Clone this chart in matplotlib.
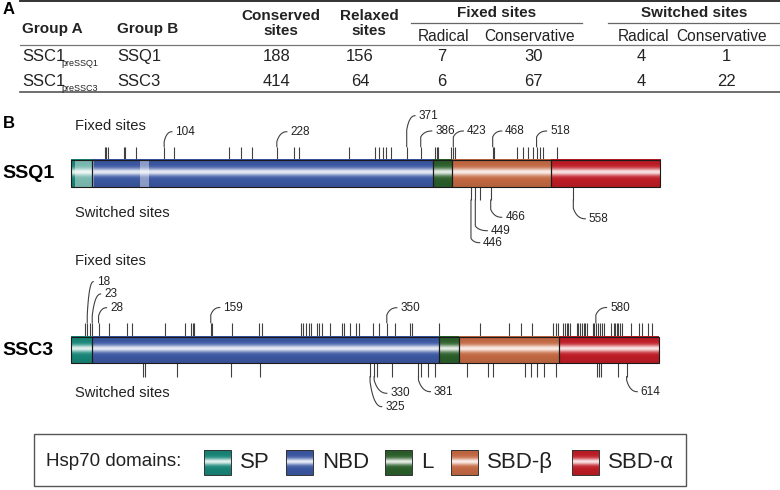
import matplotlib
matplotlib.use("Agg")
import matplotlib.pyplot as plt
import numpy as np
from matplotlib.colors import to_rgb
from matplotlib.patches import Rectangle

plt.rcParams["font.family"] = ["Liberation Sans", "DejaVu Sans"]

# ---- panel A: substitution counts per comparison
group_a = ["SSC1", "SSC1"]
group_a_sub = ["preSSQ1", "preSSC3"]
group_b = ["SSQ1", "SSC3"]
conserved = [188, 414]
relaxed = [156, 64]
fixed_radical = [7, 6]
fixed_conservative = [30, 67]
switched_radical = [4, 4]
switched_conservative = [1, 22]

# ---- panel B: domain boundaries and sites, in alignment columns
domain_names = ["SP", "NBD", "L", "SBD-β", "SBD-α"]
domain_colors = ["#198c7d", "#3e5caa", "#2d642d", "#cd6e46", "#c81e28"]
ssq1_bounds = [0.5, 23.8, 400.6, 421.5, 530.9, 651.4]
ssc3_bounds = [0.5, 23.4, 407.5, 429.0, 540.1, 650.3]
ssq1_faded = [(5, 26.5), (76.5, 87)]  # poorly aligned stretches, drawn pale

ssq1_fixed = [38, 39.5, 41, 59, 60.5, 72.5, 103.5, 114.5, 175, 188.5, 200, 228,
              246.5, 252.5, 308, 337, 341, 345, 349, 354, 371.5, 387, 403, 404.5,
              406.5, 420, 423, 425, 466.5, 468.5, 493.5, 499.5, 505, 510.5, 515,
              519, 522, 538]
ssq1_fixed_at = [103.5, 228, 371.5, 387, 423, 466.5, 515]
ssq1_fixed_txt = ["104", "228", "371", "386", "423", "468", "518"]

ssq1_switched = [442.5, 447.3, 453, 464.3, 555.6]
ssq1_switched_at = [442.5, 447.3, 464.3, 555.6]
ssq1_switched_txt = ["446", "449", "466", "558"]

ssc3_fixed = [16, 18.5, 21.5, 24, 31, 42, 62, 67.5, 104.5, 127, 133, 135, 137,
              155, 156.5, 179, 208.5, 211.5, 254.5, 257, 260, 263, 265.5, 272,
              274.5, 277.5, 286.5, 299.5, 302, 308.5, 316, 319, 334.5, 341, 349.5,
              359, 375, 377, 407.5, 453, 485, 498, 510, 533.5, 536.5, 539, 544.5,
              546.5, 548.5, 550, 552, 559.5, 561, 563.5, 565, 567, 569, 571, 577,
              579, 580.5, 583, 585, 587.5, 589.5, 597.5, 600, 601.5, 604, 605.5,
              607.5, 609.5, 619, 628.5, 631.5, 638, 642]
ssc3_fixed_at = [18.5, 24, 31, 155, 349.5, 580.5]
ssc3_fixed_txt = ["18", "23", "28", "159", "350", "580"]

ssc3_switched = [80.5, 82.5, 118, 177.5, 209.5, 331, 335.5, 339, 355, 384.5, 387,
                 395.5, 402.5, 438.5, 461, 466.5, 502, 509, 515.5, 523, 536.5,
                 581.5, 583.5, 586, 604.5, 614.5]
ssc3_switched_at = [331, 335.5, 384.5, 614.5]
ssc3_switched_txt = ["325", "330", "381", "614"]

X0_PX = 70.5        # pixel of alignment column 0
PX_PER_COL = 0.905  # pixels per alignment column
TICK_C = "#404040"


def gradient(color, n=80):
    t = np.linspace(0, 1, n)
    c = np.array(to_rgb(color))
    hl = 0.88 * np.exp(-((t - 0.46) / 0.13) ** 2)
    dark = 0.12 * np.abs(t - 0.46) / 0.54
    rgb = c[None, :] * (1 - dark[:, None])
    rgb = rgb * (1 - hl[:, None]) + hl[:, None]
    return rgb[:, None, :]


def draw_bar(ax, bounds, y_top, y_bot, faded=()):
    for i, color in enumerate(domain_colors):
        x0, x1 = bounds[i], bounds[i + 1]
        ax.imshow(gradient(color), extent=(x0, x1, y_bot, y_top), aspect="auto",
                  interpolation="bilinear", zorder=2)
    for x0, x1 in faded:
        ax.add_patch(Rectangle((x0, y_top), x1 - x0, y_bot - y_top, fc="white",
                               ec="none", alpha=0.42, zorder=3))
    for i in range(len(domain_colors)):
        x0, x1 = bounds[i], bounds[i + 1]
        ax.add_patch(Rectangle((x0, y_top), x1 - x0, y_bot - y_top, fill=False,
                               ec="#1a1a1a", lw=0.8, zorder=4))


def leader(ax, x, y0, y_bend, dx_px, y_end, text, text_gap=3.5):
    # vertical run from the tick, then a curl out to the label
    dx = dx_px / PX_PER_COL
    s = np.linspace(0, 1, 20)
    p0 = np.array([x, y_bend])
    p1 = np.array([x + 0.3 * dx, y_end])
    p2 = np.array([x + dx, y_end])
    curve = ((1 - s) ** 2)[:, None] * p0 + (2 * (1 - s) * s)[:, None] * p1 + (s ** 2)[:, None] * p2
    xs = np.concatenate([[x], curve[:, 0]])
    ys = np.concatenate([[y0], curve[:, 1]])
    ax.plot(xs, ys, color=TICK_C, lw=0.8, zorder=1)
    ax.text(x + dx + text_gap / PX_PER_COL, y_end, text, fontsize=8.5, ha="left",
            va="center", color="#222")


fig = plt.figure(figsize=(7.8, 4.9), dpi=100)
canvas = fig.add_axes([0, 0, 1, 1])
canvas.set_xlim(0, 780)
canvas.set_ylim(490, 0)
canvas.axis("off")

# ---------------- panel A table ----------------
canvas.text(3, 10, "A", fontsize=12, fontweight="bold", va="center")
canvas.plot([20, 780], [1.5, 1.5], color="#333", lw=1.4)
canvas.plot([20, 780], [45, 45], color="#777", lw=0.9)
canvas.plot([20, 780], [92.3, 92.3], color="#555", lw=1.2)
canvas.plot([410.7, 581.7], [22.7, 22.7], color="#666", lw=0.9)
canvas.plot([608.3, 780], [22.7, 22.7], color="#666", lw=0.9)

hdr = dict(fontsize=11, fontweight="bold", va="center", color="#222")
canvas.text(22, 29, "Group A", ha="left", **hdr)
canvas.text(117, 29, "Group B", ha="left", **hdr)
canvas.text(281, 16.5, "Conserved", ha="center", **hdr)
canvas.text(281, 31, "sites", ha="center", **hdr)
canvas.text(369, 16.5, "Relaxed", ha="center", **hdr)
canvas.text(369, 31, "sites", ha="center", **hdr)
canvas.text(496.7, 13, "Fixed sites", ha="center", **hdr)
canvas.text(694, 13, "Switched sites", ha="center", **hdr)
sub = dict(fontsize=11.2, va="center", ha="center", color="#222")
canvas.text(443.3, 36.5, "Radical", **sub)
canvas.text(529.3, 36.5, "Conservative", **sub)
canvas.text(643.3, 36.5, "Radical", **sub)
canvas.text(721.7, 36.5, "Conservative", **sub)

row_y = [56.5, 81]
cell = dict(fontsize=12, va="center", color="#222")
for i, y in enumerate(row_y):
    canvas.text(22, y, group_a[i], ha="left", **cell)
    canvas.text(61.5, y + 7.5, group_a_sub[i], ha="left", va="center", fontsize=6.5,
                color="#222")
    canvas.text(117, y, group_b[i], ha="left", **cell)
    canvas.text(276.3, y, str(conserved[i]), ha="center", **cell)
    canvas.text(360, y, str(relaxed[i]), ha="center", **cell)
    canvas.text(441.7, y, str(fixed_radical[i]), ha="center", **cell)
    canvas.text(533.3, y, str(fixed_conservative[i]), ha="center", **cell)
    canvas.text(641.7, y, str(switched_radical[i]), ha="center", **cell)
    canvas.text(726.7, y, str(switched_conservative[i]), ha="center", **cell)

# ---------------- panel B diagrams ----------------
canvas.text(3, 123, "B", fontsize=12, fontweight="bold", va="center")
lab = dict(fontsize=10.6, va="center", ha="left", color="#222")
canvas.text(75, 125.5, "Fixed sites", **lab)
canvas.text(75, 213.3, "Switched sites", **lab)
canvas.text(75, 261, "Fixed sites", **lab)
canvas.text(75, 393.3, "Switched sites", **lab)
canvas.text(2, 173.5, "SSQ1", fontsize=14, fontweight="bold", va="center")
canvas.text(2, 350, "SSC3", fontsize=14, fontweight="bold", va="center")

seq = fig.add_axes([0, 0, 1, 1])
seq.axis("off")

# SSQ1
top, bot = 160, 187.3
draw_bar(seq, ssq1_bounds, top, bot, ssq1_faded)
seq.vlines(ssq1_fixed, top - 13.3, top, color=TICK_C, lw=0.8, zorder=1)
seq.vlines(ssq1_switched, bot, bot + 12.7, color=TICK_C, lw=0.8, zorder=1)
fixed_lay = [(141.7, 7.7, 131.7), (141.7, 10, 131.7), (130, 8.3, 115.7),
             (137, 11, 131), (137, 10, 131), (137, 9, 131), (137, 10, 131)]
for x, t, (yb, dx, ye) in zip(ssq1_fixed_at, ssq1_fixed_txt, fixed_lay):
    leader(seq, x, top - 13.3, yb, dx, ye, t)
sw_lay = [(238.3, 8.7, 242.7), (226, 12, 230.7), (209.3, 11, 217.3), (208.3, 12, 218.8)]
for x, t, (yb, dx, ye) in zip(ssq1_switched_at, ssq1_switched_txt, sw_lay):
    leader(seq, x, bot + 12.7, yb, dx, ye, t)

# SSC3
top, bot = 336.7, 363.3
draw_bar(seq, ssc3_bounds, top, bot)
seq.vlines(ssc3_fixed, top - 14, top, color=TICK_C, lw=0.8, zorder=1)
seq.vlines(ssc3_switched, bot, bot + 13.4, color=TICK_C, lw=0.8, zorder=1)
fixed_lay = [(315, 6, 281.7), (316, 8.4, 294), (316, 8, 307.7), (315, 9, 307.5),
             (315, 10, 307.7), (315, 10.7, 307.5)]
for x, t, (yb, dx, ye) in zip(ssc3_fixed_at, ssc3_fixed_txt, fixed_lay):
    leader(seq, x, top - 14, yb, dx, ye, t)
sw_lay = [(381.7, 11.7, 406.7), (380, 12.7, 393.3), (380, 12, 391.7), (380, 10.6, 391.7)]
for x, t, (yb, dx, ye) in zip(ssc3_switched_at, ssc3_switched_txt, sw_lay):
    leader(seq, x, bot + 13.4, yb, dx, ye, t)

seq.set_xlim((0 - X0_PX) / PX_PER_COL, (780 - X0_PX) / PX_PER_COL)
seq.set_ylim(490, 0)

# ---------------- legend ----------------
canvas.add_patch(Rectangle((33.5, 434), 652, 52, fill=False, ec="#555", lw=1))
canvas.text(46, 461.5, "Hsp70 domains:", fontsize=13.5, va="center", ha="left",
            color="#222")
sw_x = [203.6, 286, 385, 451, 572]
for name, color, x in zip(domain_names, domain_colors, sw_x):
    canvas.imshow(gradient(color), extent=(x, x + 27, 475, 450), aspect="auto",
                  interpolation="bilinear", zorder=2)
    canvas.add_patch(Rectangle((x, 450), 27, 25, fill=False, ec="#333", lw=0.7,
                               zorder=3))
    canvas.text(x + 36, 462, name, fontsize=16, va="center", ha="left", color="#222")
canvas.set_xlim(0, 780)
canvas.set_ylim(490, 0)

fig.savefig("out.png", dpi=100, facecolor="white")
